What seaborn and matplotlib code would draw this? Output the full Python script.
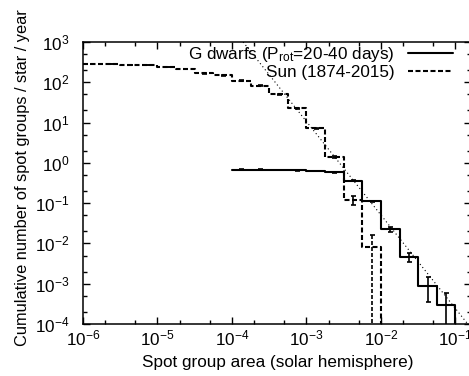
import numpy as np
import pandas as pd
import matplotlib
matplotlib.use("Agg")
import matplotlib.pyplot as plt
from matplotlib.ticker import LogLocator, LogFormatterSciNotation, NullFormatter
import seaborn as sns

# --- Data ---
# bins are 0.25 dex wide, given by their centre in log10(area / solar hemisphere)
BIN_WIDTH = 0.25

sun_logA = [-5.875, -5.625, -5.375, -5.125, -4.875, -4.625, -4.375, -4.125,
            -3.875, -3.625, -3.375, -3.125, -2.875, -2.625, -2.375, -2.125]
sun_rate = [281, 278, 269, 263, 245, 211, 166, 148,
            110, 83, 50, 22.4, 7.2, 1.41, 0.121, 0.0082]
sun_err = [1.41, 1.40, 1.38, 1.37, 1.32, 1.22, 1.09, 1.02,
           0.88, 0.77, 0.60, 0.40, 0.23, 0.10, 0.029, 0.0082]

gdw_logA = [-3.875, -3.625, -3.375, -3.125, -2.875, -2.625,
            -2.375, -2.125, -1.875, -1.625, -1.375, -1.125]
gdw_rate = [0.67, 0.67, 0.665, 0.66, 0.63, 0.58,
            0.357, 0.11, 0.0224, 0.0047, 0.00089, 0.000295]
gdw_err = [0.015, 0.015, 0.015, 0.015, 0.0145, 0.014,
           0.011, 0.006, 0.0027, 0.00125, 0.00054, 0.0003]

# power-law fit (dotted line), end points
fit_area = [1.41e-4, 0.16]
fit_rate = [1000, 8.1e-5]

LABEL_GDW = 'G dwarfs (P$_{\\mathregular{rot}}$=20-40 days)'
LABEL_SUN = 'Sun (1874-2015)'

FLOOR = 1e-9  # histogram steps drop to the baseline (below the axis)
DASH = (0, (2.4, 1.2))


def step_frame(logA, rate):
    # histogram-step outline: left edges + last right edge
    logA = np.asarray(logA)
    edges = np.append(logA - BIN_WIDTH / 2, logA[-1] + BIN_WIDTH / 2)
    return pd.DataFrame({'area': 10 ** edges, 'rate': list(rate) + [FLOOR]})


sns.set_theme(style='ticks')
plt.rcParams['font.family'] = ['Liberation Sans', 'DejaVu Sans']
plt.rcParams['mathtext.fontset'] = 'custom'
plt.rcParams['mathtext.rm'] = 'Liberation Sans'
plt.rcParams['mathtext.it'] = 'Liberation Sans:italic'
plt.rcParams['axes.unicode_minus'] = False
plt.rcParams['text.color'] = 'black'
FS = 12.3

fig = plt.figure(figsize=(4.69, 3.76), dpi=100)
ax = fig.add_axes([83 / 469, 52 / 376, 387.7 / 469, 282 / 376])
ax.set_xscale('log')
ax.set_yscale('log')

# fit line
ax.plot(fit_area, fit_rate, color='black', lw=0.8, linestyle=(0, (1, 2.5)))

# step curves
sns.lineplot(data=step_frame(gdw_logA, gdw_rate), x='area', y='rate', ax=ax,
             estimator=None, sort=False, drawstyle='steps-post',
             color='black', lw=1.5, label=LABEL_GDW)
sns.lineplot(data=step_frame(sun_logA, sun_rate), x='area', y='rate', ax=ax,
             estimator=None, sort=False, drawstyle='steps-post',
             color='black', lw=1.5, linestyle=DASH, label=LABEL_SUN)

# error bars at bin centres
eb = ax.errorbar(10 ** np.array(gdw_logA), gdw_rate, yerr=gdw_err, fmt='none',
                 ecolor='black', elinewidth=1.2, capsize=1.8, capthick=1.2)
eb = ax.errorbar(10 ** np.array(sun_logA), sun_rate, yerr=sun_err, fmt='none',
                 ecolor='black', elinewidth=1.2, capsize=1.8, capthick=1.2)
eb[2][0].set_linestyle(DASH)

ax.set_xlim(1e-6, 0.16)
ax.set_ylim(1e-4, 1e3)

for axis in (ax.xaxis, ax.yaxis):
    axis.set_major_locator(LogLocator(base=10, numticks=20))
    axis.set_minor_locator(LogLocator(base=10, subs=(2, 5), numticks=20))
    axis.set_major_formatter(LogFormatterSciNotation())
    axis.set_minor_formatter(NullFormatter())

ax.tick_params(which='both', direction='in', top=True, right=True,
               color='black', width=1.0, labelsize=FS, labelcolor='black')
ax.tick_params(which='major', length=5)
ax.tick_params(which='minor', length=3)
ax.tick_params(axis='x', which='major', pad=3)
ax.tick_params(axis='y', which='major', pad=10)
for sp in ax.spines.values():
    sp.set_color('black')
    sp.set_linewidth(1.1)

ax.set_xlabel('Spot group area (solar hemisphere)', fontsize=FS, color='black')
ax.set_ylabel('Cumulative number of spot groups / star / year', fontsize=11.8, color='black')
ax.xaxis.set_label_coords(0.503, -0.11)
ax.yaxis.set_label_coords(-0.137, 0.52)

handles = ax.get_lines()[1:3]
leg = ax.legend(handles=handles, labels=[LABEL_GDW, LABEL_SUN], loc='upper right',
                bbox_to_anchor=(0.954, 0.99), markerfirst=False, frameon=False,
                fontsize=FS, handlelength=2.6, handletextpad=0.8,
                labelspacing=0.05, borderpad=0, borderaxespad=0)
for t in leg.get_texts():
    t.set_color('black')

fig.savefig('out.png', dpi=100)
